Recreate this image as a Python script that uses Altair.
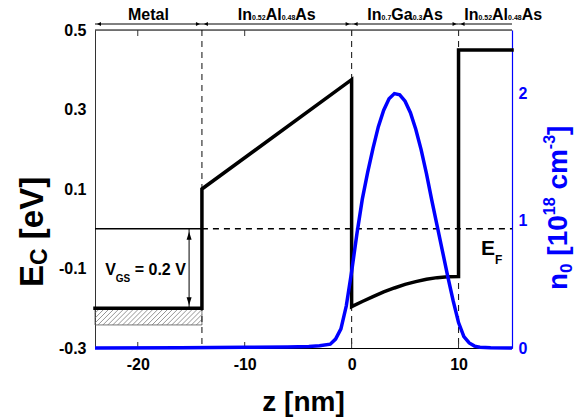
import altair as alt
import pandas as pd

# ---------------- data ----------------
band_z = [-24, -14, -14, 0, 0, 1, 2, 3, 4, 5, 6, 7, 8, 9, 10, 10, 15]
band_e = [-0.2, -0.2, 0.1, 0.375, -0.196, -0.183, -0.171, -0.159, -0.149,
          -0.140, -0.133, -0.127, -0.123, -0.121, -0.12, 0.45, 0.45]

n_z = [-24, -16, -10, -6, -4, -3, -2, -1.5, -1, -0.5, 0, 0.5, 1, 1.5, 2, 2.5,
       3, 3.5, 4, 4.5, 5, 5.5, 6, 6.5, 7, 7.5, 8, 8.5, 9, 9.5, 10, 10.5, 11,
       11.5, 12, 13, 15]
n_val = [0, 0.002, 0.005, 0.008, 0.012, 0.018, 0.03, 0.07, 0.15, 0.33, 0.6,
         0.9, 1.17, 1.38, 1.57, 1.74, 1.87, 1.96, 2.0, 1.99, 1.94, 1.85, 1.72,
         1.56, 1.37, 1.16, 0.96, 0.76, 0.56, 0.37, 0.2, 0.09, 0.04, 0.015,
         0.006, 0.002, 0]

boundaries = [-14, 0, 10]
z_min, z_max = -24, 15
e_min, e_max = -0.3, 0.5
n_min, n_max = 0, 2.5
fermi_e = 0.0
metal_z = [-24, -14]
metal_e = -0.2
hatch_bottom = -0.242
vgs_z = -15.2
x_ticks = [-20, -10, 0, 10]
y_ticks = [-0.3, -0.1, 0.1, 0.3, 0.5]
n_ticks = [0, 1, 2]

region_start = [-24, -14, 0, 10]
region_end = [-14, 0, 10, 15]
# label segments: (text, kind) kind: 'm' main, 's' subscript, 'p' superscript
region_labels = [
    [("Metal", "m")],
    [("In", "m"), ("0.52", "s"), ("Al", "m"), ("0.48", "s"), ("As", "m")],
    [("In", "m"), ("0.7", "s"), ("Ga", "m"), ("0.3", "s"), ("As", "m")],
    [("In", "m"), ("0.52", "s"), ("Al", "m"), ("0.48", "s"), ("As", "m")],
]
region_anchor = [-19, -7, 5, 10.53]
region_align = ["center", "center", "center", "left"]

vgs_text = [("V", "m"), ("GS", "s"), (" = 0.2 V", "m")]
vgs_pos = (-23.05, -0.116)
ef_text = [("E", "m"), ("F", "s")]
ef_pos = (12.09, -0.066)
ylabel_text = [("E", "m"), ("C", "s"), (" [eV]", "m")]
nlabel_text = [("n", "m"), ("0", "s"), (" [10", "m"), ("18", "p"), (" cm", "m"),
               ("-3", "p"), ("]", "m")]
xlabel_text = "z [nm]"

FONT = "Liberation Sans"
BLUE = "#0000ff"

# ---------------- helpers ----------------
W = {' ': .278, '.': .278, '-': .333, '=': .584, '[': .333, ']': .333,
     'A': .722, 'C': .722, 'E': .667, 'F': .611, 'G': .778, 'I': .278,
     'M': .833, 'S': .667, 'V': .667, 'a': .556, 'c': .556, 'e': .556,
     'l': .278, 'm': .889, 'n': .611, 's': .556, 't': .333, 'z': .5}


def tw(s, size):
    return sum(W.get(ch, .556) for ch in s) * size


minus_fix = "replace(datum.label, '\u2212', '-')"

x_axis = alt.Axis(values=x_ticks, title=None, grid=False, ticks=False,
                  labelFont=FONT, labelFontWeight="bold", labelFontSize=16,
                  labelColor="black", labelPadding=8, domainColor="black",
                  domainWidth=1, labelExpr=minus_fix)
y_axis = alt.Axis(values=y_ticks, title=None, grid=False, ticks=False,
                  format=".1f", labelFont=FONT, labelFontWeight="bold",
                  labelFontSize=16, labelColor="black", labelPadding=9,
                  domainColor="#333333", domainWidth=1, labelExpr=minus_fix)
n_axis = alt.Axis(values=n_ticks, title=None, grid=False, ticks=False,
                  format="d", orient="right", labelFont=FONT,
                  labelFontWeight="bold", labelFontSize=16, labelColor=BLUE,
                  labelPadding=6, domainColor=BLUE, domainWidth=1.2)

xs = alt.Scale(domain=[z_min, z_max], nice=False, zero=False)
ys = alt.Scale(domain=[e_min, e_max], nice=False, zero=False)
ns = alt.Scale(domain=[n_min, n_max], nice=False, zero=False)


def X(field="z"):
    return alt.X(f"{field}:Q", scale=xs, axis=x_axis)


def Y(field="e"):
    return alt.Y(f"{field}:Q", scale=ys, axis=y_axis)


def rich(segs, sizes, x_enc, y_enc, extra=None, align="left", angle=0,
         color="black"):
    """sizes: dict kind -> (fontSize, dy)"""
    total = sum(tw(t, sizes[k][0]) for t, k in segs)
    off = -total / 2 if align == "center" else 0
    out = []
    for t, k in segs:
        fs, dy = sizes[k]
        lead = len(t) - len(t.lstrip(" "))
        body = t.strip(" ")
        off += tw(" " * lead, fs)
        d = {"t": [body]}
        if extra:
            for kk, vv in extra.items():
                d[kk] = [vv]
        out.append(
            alt.Chart(pd.DataFrame(d)).mark_text(
                align="left", baseline="alphabetic", font=FONT,
                fontWeight="bold", fontSize=fs, dx=off, dy=dy, angle=angle,
                color=color
            ).encode(x=x_enc, y=y_enc, text="t:N")
        )
        off += tw(t.lstrip(" "), fs)
    return out


band_df = pd.DataFrame({"z": band_z, "e": band_e, "i": range(len(band_z))})
n_df = pd.DataFrame({"z": n_z, "n": n_val})

layers = []

# hatched region under the metal level
layers.append(alt.Chart(pd.DataFrame({"z": [metal_z[0]], "z2": [metal_z[1]],
                                      "e": [metal_e], "e2": [hatch_bottom]})
                        ).mark_rect(fill=None, stroke="#555555",
                                    strokeWidth=0.8).encode(
    x=X(), x2="z2:Q", y=Y(), y2="e2:Q"))

# hatch strokes (decoration)
span = 1.56
step = 0.46
hz1, hz2, he1, he2 = [], [], [], []
s = metal_z[0] - span
while s < metal_z[1]:
    t0 = max(0.0, (metal_z[0] - s) / span)
    t1 = min(1.0, (metal_z[1] - s) / span)
    if t1 > t0:
        hz1.append(s + span * t0)
        hz2.append(s + span * t1)
        he1.append(hatch_bottom + (metal_e - hatch_bottom) * t0)
        he2.append(hatch_bottom + (metal_e - hatch_bottom) * t1)
    s += step
layers.append(alt.Chart(pd.DataFrame({"z": hz1, "z2": hz2, "e": he1,
                                      "e2": he2})).mark_rule(
    color="#666666", strokeWidth=0.7).encode(x=X(), x2="z2:Q", y=Y(),
                                             y2="e2:Q"))

# boundaries (dashed verticals)
bdf = pd.DataFrame({"z": boundaries, "e": [e_max] * 3, "e2": [e_min] * 3})
layers.append(alt.Chart(bdf).mark_rule(color="#222222", strokeWidth=1.1,
                                       strokeDash=[6, 5]).encode(
    x=X(), y=Y(), y2="e2:Q"))

# Fermi level: solid in metal, dashed elsewhere
layers.append(alt.Chart(pd.DataFrame({"z": [metal_z[0]], "z2": [metal_z[1]],
                                      "e": [fermi_e]})).mark_rule(
    color="black", strokeWidth=1.3).encode(x=X(), x2="z2:Q", y=Y()))
layers.append(alt.Chart(pd.DataFrame({"z": [metal_z[1]], "z2": [z_max],
                                      "e": [fermi_e]})).mark_rule(
    color="black", strokeWidth=1.3, strokeDash=[6, 5]).encode(
    x=X(), x2="z2:Q", y=Y()))

# top frame line
layers.append(alt.Chart(pd.DataFrame({"z": [z_min], "z2": [z_max]})).mark_rule(
    color="black", strokeWidth=1).encode(x=X(), x2="z2:Q", y=alt.value(0)))

# inward ticks top and bottom
tdf = pd.DataFrame({"z": x_ticks})
layers.append(alt.Chart(tdf).mark_rule(color="#333333", strokeWidth=1).encode(
    x=X(), y=alt.value(0), y2=alt.value(6)))
layers.append(alt.Chart(tdf).mark_rule(color="#333333", strokeWidth=1).encode(
    x=X(), y=alt.value(318), y2=alt.value(312)))

# band edge
layers.append(alt.Chart(band_df).mark_line(
    color="black", strokeWidth=3.5, strokeJoin="miter", strokeCap="square"
).encode(x=X(), y=Y(), order="i:Q"))

# V_GS arrow
layers.append(alt.Chart(pd.DataFrame({"z": [vgs_z], "e": [fermi_e],
                                      "e2": [metal_e]})).mark_rule(
    color="black", strokeWidth=1).encode(x=X(), y=Y(), y2="e2:Q"))
layers.append(alt.Chart(pd.DataFrame({"z": [vgs_z], "e": [fermi_e]})).mark_point(
    shape="M0,1.5L-1.25,5.5L1.25,5.5Z", size=16, filled=True, color="black",
    opacity=1).encode(x=X(), y=Y()))
layers.append(alt.Chart(pd.DataFrame({"z": [vgs_z], "e": [metal_e]})).mark_point(
    shape="M0,-1.5L-1.25,-5.5L1.25,-5.5Z", size=16, filled=True, color="black",
    opacity=1).encode(x=X(), y=Y()))

# region arrows above the plot
rdf = pd.DataFrame({"z": region_start, "z2": region_end})
layers.append(alt.Chart(rdf).mark_rule(color="black", strokeWidth=1).encode(
    x=X(), x2="z2:Q", y=alt.value(-6)))
layers.append(alt.Chart(pd.DataFrame({"z": region_start})).mark_point(
    shape="M1,0L3,-1L3,1Z", size=16, filled=True, color="black", opacity=1
).encode(x=X(), y=alt.value(-6)))
layers.append(alt.Chart(pd.DataFrame({"z": region_end[:-1]})).mark_point(
    shape="M-1,0L-3,-1L-3,1Z", size=16, filled=True, color="black", opacity=1
).encode(x=X(), y=alt.value(-6)))

# region labels
for segs, anc, al in zip(region_labels, region_anchor, region_align):
    layers += rich(segs, {"m": (16, 0), "s": (7, 0)}, X("zz"),
                   alt.value(-10), extra={"zz": anc}, align=al)

# V_GS label
layers += rich(vgs_text, {"m": (16, 0), "s": (10, 7)}, X("zz"), Y("ee"),
               extra={"zz": vgs_pos[0], "ee": vgs_pos[1]})

# E_F label
layers += rich(ef_text, {"m": (21, 0), "s": (12, 9)}, X("zz"), Y("ee"),
               extra={"zz": ef_pos[0], "ee": ef_pos[1]})

# axis titles
layers += rich(ylabel_text, {"m": (33, 0), "s": (23, 4)},
               alt.value(-52), alt.value(257), angle=270)
layers += rich(nlabel_text, {"m": (28, 0), "s": (17, 5), "p": (16, -12)},
               alt.value(472), alt.value(260), angle=270, color=BLUE)
layers.append(alt.Chart(pd.DataFrame({"t": [xlabel_text]})).mark_text(
    font=FONT, fontWeight="bold", fontSize=28, align="center",
    baseline="alphabetic", color="black").encode(
    x=alt.value(208.5), y=alt.value(381), text="t:N"))

left = alt.layer(*layers)

right = alt.Chart(n_df).mark_line(color=BLUE, strokeWidth=3.5).encode(
    x=X(), y=alt.Y("n:Q", scale=ns, axis=n_axis))

chart = alt.layer(left, right).resolve_scale(y="independent").properties(
    width=417, height=318,
    padding={"left": 87, "top": 22, "right": 68, "bottom": 72},
    autosize=alt.AutoSizeParams(type="none"),
).configure_view(stroke=None).configure(background="white")

chart.save("out.html", embed_options={"renderer": "svg", "actions": False})
